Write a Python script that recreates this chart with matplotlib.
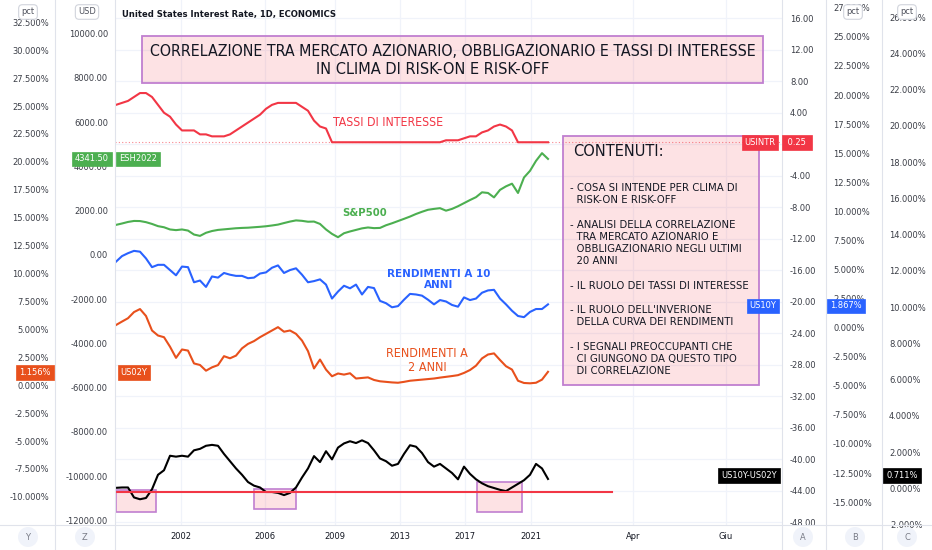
import numpy as np
import matplotlib
matplotlib.use("Agg")
import matplotlib.pyplot as plt
from matplotlib import font_manager
from matplotlib.transforms import blended_transform_factory
from matplotlib.patches import Rectangle, Ellipse
from matplotlib.lines import Line2D
from matplotlib.ticker import FormatStrFormatter

# pick the narrowest installed sans font
_fl = [(f.name, f.stretch) for f in font_manager.fontManager.ttflist]
_names = {n for n, s in _fl}
if "Liberation Sans Narrow" in _names:
    FAMILY, STRETCH = "Liberation Sans Narrow", "normal"
elif ("DejaVu Sans", "condensed") in _fl or ("DejaVu Sans", "semi-condensed") in _fl:
    FAMILY, STRETCH = "DejaVu Sans", "condensed"
elif "Roboto Condensed" in _names:
    FAMILY, STRETCH = "Roboto Condensed", "normal"
else:
    FAMILY, STRETCH = "Roboto", "normal"
plt.rcParams["font.family"] = [FAMILY, "DejaVu Sans"]
plt.rcParams["font.stretch"] = STRETCH

# ---------------- data ----------------
# time axis is an index (bar) axis like TradingView: data occupy bars 1..433,
# the remaining bars up to 667 are the empty "future" area
N_BARS = 667
DATA_FIRST, DATA_LAST = 1, 433
tick_bars = [66, 150, 220, 285, 350, 416, 518, 611]
tick_labels = ["2002", "2006", "2009", "2013", "2017", "2021", "Apr", "Giu"]

# USINTR - United States interest rate (%)
usintr = [5.0, 5.25, 5.5, 6.0, 6.5, 6.5, 6.0, 5.0, 4.0, 3.5,
          2.5, 1.75, 1.75, 1.75, 1.25, 1.25, 1.0, 1.0, 1.0, 1.25,
          1.75, 2.25, 2.75, 3.25, 3.75, 4.5, 5.0, 5.25, 5.25, 5.25,
          5.25, 4.75, 4.25, 3.0, 2.25, 2.0, 0.25, 0.25, 0.25, 0.25,
          0.25, 0.25, 0.25, 0.25, 0.25, 0.25, 0.25, 0.25, 0.25, 0.25,
          0.25, 0.25, 0.25, 0.25, 0.25, 0.5, 0.5, 0.5, 0.75, 1.0,
          1.0, 1.5, 1.75, 2.25, 2.5, 2.25, 1.75, 0.25, 0.25, 0.25,
          0.25, 0.25, 0.25]
# ESH2022 - S&P500 futures (USD)
es = [1357, 1420, 1490, 1535, 1530, 1480, 1400, 1300, 1250, 1150,
      1120, 1150, 1100, 920, 860, 1000, 1080, 1130, 1155, 1180,
      1205, 1220, 1230, 1250, 1270, 1295, 1330, 1370, 1440, 1507,
      1560, 1540, 1500, 1507, 1400, 1150, 950, 800, 980, 1060,
      1130, 1200, 1240, 1210, 1220, 1340, 1430, 1530, 1630, 1733,
      1850, 1950, 2040, 2080, 2113, 2000, 2080, 2200, 2340, 2480,
      2610, 2830, 2800, 2600, 2940, 3100, 3220, 2800, 3500, 3800,
      4250, 4600, 4340]
# US10Y yield (%)
us10y = [5.67, 6.15, 6.4, 6.6, 6.53, 5.95, 5.2, 5.4, 5.4, 4.95,
         4.5, 5.25, 5.2, 3.9, 4.05, 3.5, 4.4, 4.3, 4.7, 4.55,
         4.45, 4.45, 4.25, 4.3, 4.65, 4.75, 5.15, 5.35, 4.7, 4.95,
         5.1, 4.55, 3.9, 4.0, 4.15, 3.7, 2.5, 3.1, 3.6, 3.38,
         3.7, 2.85, 3.5, 3.4, 2.3, 2.1, 1.75, 1.85, 2.4, 2.9,
         2.85, 2.75, 2.4, 2.0, 2.37, 2.25, 1.95, 1.8, 2.6, 2.37,
         2.5, 3.0, 3.2, 3.25, 2.5, 2.0, 1.45, 1.0, 0.9, 1.35,
         1.6, 1.6, 2.0]
# US02Y yield (%)
us02y = [5.39, 5.7, 6.0, 6.55, 6.82, 6.2, 4.9, 4.45, 4.3, 3.45,
         2.45, 3.2, 3.1, 1.95, 1.81, 1.3, 1.6, 1.8, 2.6, 2.41,
         2.65, 3.3, 3.7, 3.95, 4.3, 4.6, 4.9, 5.2, 4.79, 4.9,
         4.6, 4.0, 3.05, 1.5, 2.3, 1.4, 0.8, 1.05, 0.95, 1.07,
         0.6, 0.65, 0.7, 0.47, 0.35, 0.3, 0.25, 0.22, 0.3, 0.4,
         0.45, 0.5, 0.55, 0.6, 0.68, 0.75, 0.82, 0.9, 1.1, 1.36,
         1.75, 2.4, 2.75, 2.85, 2.26, 1.7, 1.4, 0.4, 0.2, 0.17,
         0.22, 0.5, 1.2]
# US10Y-US02Y spread (%)
spread = [0.03, 0.05, 0.05, -0.5, -0.6, -0.53, -0.05, 0.75, 1.0, 1.8,
          1.75, 1.8, 1.75, 2.1, 2.18, 2.35, 2.4, 2.35, 1.9, 1.5,
          1.1, 0.75, 0.35, 0.15, 0.05, -0.2, -0.2, -0.25, -0.37, -0.25,
          0.05, 0.6, 1.1, 1.78, 1.45, 2.05, 1.6, 2.25, 2.48, 2.6,
          2.5, 2.65, 2.5, 2.1, 1.65, 1.5, 1.25, 1.35, 1.9, 2.38,
          2.3, 1.95, 1.45, 1.2, 1.35, 1.1, 0.85, 0.5, 1.2, 0.8,
          0.5, 0.28, 0.12, 0.02, -0.08, -0.15, 0.05, 0.25, 0.45, 0.75,
          1.35, 1.1, 0.52]

# last prices shown on the scales
last_usintr, last_es, last_10y, last_02y, last_spread = 0.25, 4341.50, 1.867, 1.156, 0.711

# drawings on the spread pane (bars, spread %)
zero_line = (1, 497, -0.2)
highlight_boxes = [(1, 41, -1.30, -0.11), (139, 181, -1.14, -0.03), (362, 407, -1.29, 0.33)]

# ---------------- colours ----------------
C_RED = "#f23645"
C_GREEN = "#4caf50"
C_BLUE = "#2962ff"
C_ORANGE = "#e8501c"
C_BLACK = "#000000"
C_TEXT = "#131722"
C_TICK = "#3b3e47"
C_GRID = "#f0f3fa"
C_SEP = "#e0e3eb"
C_PINK = (242 / 255, 54 / 255, 69 / 255, 0.14)
C_PURPLE = "#c07fd0"

# ---------------- figure ----------------
W, H = 932, 550
fig = plt.figure(figsize=(W / 100, H / 100), dpi=100)
fig.patch.set_facecolor("white")
renderer = fig.canvas.get_renderer()
PL, PR, PB, PT = 115, 782, 525, 0


def fx(x):
    return x / W


def fy(y):
    return 1 - y / H


def fit(t, target_w):
    w = t.get_window_extent(renderer).width
    t.set_fontsize(t.get_fontsize() * target_w / w)
    return t


# tick font size so that "10000.00" is about 40 px wide
_probe = fig.text(0, 0, "10000.00", fontsize=10)
TICK_FS = 10 * 40.0 / _probe.get_window_extent(renderer).width
_probe.remove()

axA = fig.add_axes([fx(PL), fy(PB), (PR - PL) / W, (PB - PT) / H])
axB = axA.twinx()
axC = axA.twinx()
axY = axA.twinx()
axZ = axA.twinx()

bars = np.linspace(DATA_FIRST, DATA_LAST, len(usintr))

axA.set_xlim(0, N_BARS)
axA.set_ylim(-48.37, 18.32)
axB.set_ylim(-16.97, 28.17)
axC.set_ylim(-2.02, 26.94)
axY.set_ylim(-12.52, 34.50)
axZ.set_ylim(-12211, 11524)

for a in (axA, axB, axC, axY, axZ):
    for s in a.spines.values():
        s.set_visible(False)

PT2PX = 100 / 72.0
# right scales
axA.yaxis.tick_right()
axA.set_yticks(np.arange(-48, 17, 4))
axA.yaxis.set_major_formatter(FormatStrFormatter("%.2f"))
axA.tick_params(axis="y", length=0, pad=8 / PT2PX, labelcolor=C_TICK)
axB.yaxis.tick_right()
axB.set_yticks(np.arange(-15, 28, 2.5))
axB.yaxis.set_major_formatter(FormatStrFormatter("%.3f%%"))
axB.tick_params(axis="y", length=0, pad=51 / PT2PX, labelcolor=C_TICK)
axC.yaxis.tick_right()
axC.set_yticks(np.arange(-2, 27, 2))
axC.yaxis.set_major_formatter(FormatStrFormatter("%.3f%%"))
axC.tick_params(axis="y", length=0, pad=107 / PT2PX, labelcolor=C_TICK)
# left scales
axY.yaxis.tick_left()
axY.set_yticks(np.arange(-10, 33, 2.5))
axY.yaxis.set_major_formatter(FormatStrFormatter("%.3f%%"))
axY.tick_params(axis="y", length=0, pad=66 / PT2PX, labelcolor=C_TICK)
axZ.yaxis.tick_left()
axZ.set_yticks(np.arange(-12000, 10001, 2000))
axZ.yaxis.set_major_formatter(FormatStrFormatter("%.2f"))
axZ.tick_params(axis="y", length=0, pad=7 / PT2PX, labelcolor=C_TICK)
for a in (axA, axB, axC, axY, axZ):
    a.tick_params(axis="y", labelsize=TICK_FS)

# time axis
axA.set_xticks(tick_bars)
axA.set_xticklabels(tick_labels, fontsize=TICK_FS, color=C_TEXT)
axA.tick_params(axis="x", length=0, pad=7 / PT2PX)
axA.grid(True, color=C_GRID, lw=0.9)
axA.set_axisbelow(True)

# ---------------- series ----------------
LW = 1.5
axA.axhline(last_usintr, color=C_RED, lw=0.8, ls=(0, (1, 2)), alpha=0.6)
axA.plot(bars, usintr, color=C_RED, lw=LW)
axZ.plot(bars, es, color=C_GREEN, lw=LW)
axB.plot(bars, us10y, color=C_BLUE, lw=LW)
axY.plot(bars, us02y, color=C_ORANGE, lw=LW)
for x0, x1, y0, y1 in highlight_boxes:
    axC.add_patch(Rectangle((x0, y0), x1 - x0, y1 - y0, facecolor=C_PINK,
                            edgecolor=C_PURPLE, lw=1.2))
axC.plot(bars, spread, color=C_BLACK, lw=LW)
axC.plot([zero_line[0], zero_line[1]], [zero_line[2], zero_line[2]], color=C_RED, lw=1.5)

# ---------------- separators ----------------
for xs in (55, 115, 782, 826, 882):
    fig.add_artist(Line2D([fx(xs), fx(xs)], [0, 1], color=C_SEP, lw=0.8))
fig.add_artist(Line2D([0, 1], [fy(525), fy(525)], color=C_SEP, lw=0.8))

# ---------------- header ----------------
fit(fig.text(fx(122), fy(14), "United States Interest Rate, 1D, ECONOMICS", ha="left", va="center",
             fontsize=9, fontweight="bold", color=C_TEXT), 213)

# unit badges
for cx, txt in ((28, "pct"), (87, "USD"), (853, "pct"), (907, "pct")):
    fig.text(fx(cx), fy(12), txt, ha="center", va="center", fontsize=TICK_FS,
             color="#50535e", zorder=5,
             bbox=dict(boxstyle="round,pad=0.3,rounding_size=0.4", fc="white", ec="#d1d4dc", lw=0.8))

# bottom scale letters
for cx, txt in ((28, "Y"), (85, "Z"), (803, "A"), (855, "B"), (907, "C")):
    fig.add_artist(Ellipse((fx(cx), fy(537)), 20 / W, 20 / H, transform=fig.transFigure,
                           facecolor=C_GRID, edgecolor="none"))
    fig.text(fx(cx), fy(537), txt, ha="center", va="center", fontsize=TICK_FS,
             color="#787b86")


# ---------------- price labels ----------------
def price_label(ax, value, cx, text, color):
    tr = blended_transform_factory(fig.transFigure, ax.transData)
    return fig.text(fx(cx), value, text, transform=tr, ha="center", va="center",
                    fontsize=TICK_FS, color="white", zorder=5,
                    bbox=dict(boxstyle="square,pad=0.3", fc=color, ec=color, lw=0.5))


price_label(axY, last_02y, 35, "%.3f%%" % last_02y, C_ORANGE)
price_label(axY, last_02y, 134, "US02Y", C_ORANGE)
price_label(axZ, last_es, 92, "%.2f" % last_es, C_GREEN)
price_label(axZ, last_es, 138, "ESH2022", C_GREEN)
price_label(axA, last_usintr, 760, "USINTR", C_RED)
price_label(axA, last_usintr, 797, " %.2f " % last_usintr, C_RED)
price_label(axB, last_10y, 763, "US10Y", C_BLUE)
price_label(axB, last_10y, 846, "%.3f%%" % last_10y, C_BLUE)
price_label(axC, last_spread, 749, "US10Y-US02Y", C_BLACK)
price_label(axC, last_spread, 902, "%.3f%%" % last_spread, C_BLACK)


# ---------------- text drawings ----------------
def box(x0, y0, x1, y1):
    fig.add_artist(Rectangle((fx(x0), fy(y1)), (x1 - x0) / W, (y1 - y0) / H,
                             transform=fig.transFigure, facecolor=C_PINK,
                             edgecolor=C_PURPLE, lw=1.3))


box(142, 36, 763, 83)
fit(fig.text(fx(453), fy(52), "CORRELAZIONE TRA MERCATO AZIONARIO, OBBLIGAZIONARIO E TASSI DI INTERESSE",
             ha="center", va="center", fontsize=11.5, color=C_TEXT), 610)
fit(fig.text(fx(433), fy(70), "IN CLIMA DI RISK-ON E RISK-OFF",
             ha="center", va="center", fontsize=11.5, color=C_TEXT), 234)

fit(fig.text(fx(388), fy(122), "TASSI DI INTERESSE", ha="center", va="center",
             fontsize=10, color=C_RED), 111)
fit(fig.text(fx(365), fy(213), "S&P500", ha="center", va="center",
             fontsize=10, color=C_GREEN, fontweight="bold"), 45)
fit(fig.text(fx(439), fy(279.5), "RENDIMENTI A 10\nANNI", ha="center", va="center",
             multialignment="center", linespacing=1.1,
             fontsize=10, color=C_BLUE, fontweight="bold"), 102)
fit(fig.text(fx(427), fy(360.5), "RENDIMENTI A\n2 ANNI", ha="center", va="center",
             multialignment="center", linespacing=1.1,
             fontsize=10, color=C_ORANGE), 82)

box(563, 136, 759, 385)
fit(fig.text(fx(573), fy(152), "CONTENUTI:", ha="left", va="center",
             fontsize=13, color=C_TEXT), 90)
contents = ("- COSA SI INTENDE PER CLIMA DI\n"
            "  RISK-ON E RISK-OFF\n"
            "\n"
            "- ANALISI DELLA CORRELAZIONE\n"
            "  TRA MERCATO AZIONARIO E\n"
            "  OBBLIGAZIONARIO NEGLI ULTIMI\n"
            "  20 ANNI\n"
            "\n"
            "- IL RUOLO DEI TASSI DI INTERESSE\n"
            "\n"
            "- IL RUOLO DELL'INVERIONE\n"
            "  DELLA CURVA DEI RENDIMENTI\n"
            "\n"
            "- I SEGNALI PREOCCUPANTI CHE\n"
            "  CI GIUNGONO DA QUESTO TIPO\n"
            "  DI CORRELAZIONE")
c_lines = contents.split("\n")
_probe = fit(fig.text(0, 0, max(c_lines, key=len), fontsize=8), 178)
C_FS = _probe.get_fontsize()
_probe.remove()
LINE_PITCH = 12.2
for i, line in enumerate(c_lines):
    if line:
        fig.text(fx(570), fy(187 + LINE_PITCH * i), line, ha="left", va="center_baseline",
                 fontsize=C_FS, color=C_TEXT)

fig.savefig("out.png", dpi=100, facecolor="white")
